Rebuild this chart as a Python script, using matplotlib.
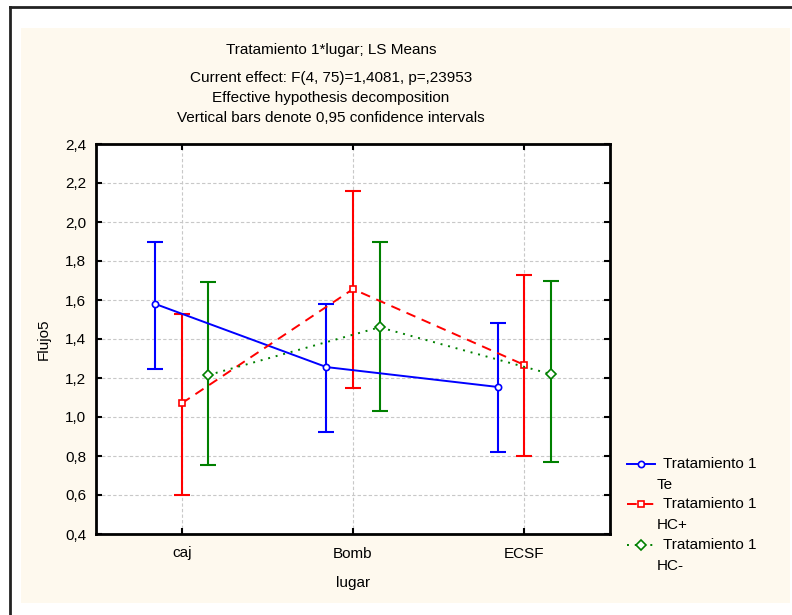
import matplotlib
matplotlib.use("Agg")
import matplotlib.pyplot as plt
import numpy as np
from matplotlib.lines import Line2D

plt.rcParams["font.family"] = ["Liberation Sans", "DejaVu Sans"]
plt.rcParams["font.size"] = 11

places = ["caj", "Bomb", "ECSF"]
tick_values = [0.4, 0.6, 0.8, 1.0, 1.2, 1.4, 1.6, 1.8, 2.0, 2.2, 2.4]
tick_labels = ["0,4", "0,6", "0,8", "1,0", "1,2", "1,4", "1,6", "1,8", "2,0", "2,2", "2,4"]

te_mean = [1.58, 1.256, 1.154]
te_low = [1.245, 0.923, 0.82]
te_high = [1.90, 1.58, 1.48]

hcp_mean = [1.07, 1.656, 1.267]
hcp_low = [0.60, 1.149, 0.80]
hcp_high = [1.53, 2.159, 1.73]

hcm_mean = [1.215, 1.46, 1.22]
hcm_low = [0.754, 1.03, 0.77]
hcm_high = [1.69, 1.90, 1.70]

CREAM = "#fef9ee"
FS = 11

fig = plt.figure(figsize=(7.92, 6.15), dpi=100)
fig.patch.set_facecolor("white")
fig.add_artist(plt.Rectangle((21 / 792, 1 - 603 / 615), (790 - 21) / 792, (603 - 28) / 615,
                             transform=fig.transFigure, facecolor=CREAM, edgecolor="none", zorder=-10))
fig.add_artist(Line2D([10 / 792, 1.0], [1 - 7 / 615, 1 - 7 / 615], transform=fig.transFigure,
                      color="#222222", lw=2.0))
fig.add_artist(Line2D([10 / 792, 10 / 792], [1 - 7 / 615, 0.0], transform=fig.transFigure,
                      color="#222222", lw=2.0))

ax = fig.add_axes([96 / 792, 1 - 534 / 615, (610 - 96) / 792, (534 - 144) / 615])
ax.set_facecolor("white")

x = np.arange(len(places))
series = [
    (te_mean, te_low, te_high, -0.155, "blue", "-", "o", "Tratamiento 1", "Te"),
    (hcp_mean, hcp_low, hcp_high, 0.0, "red", (0, (5, 3.5)), "s", "Tratamiento 1", "HC+"),
    (hcm_mean, hcm_low, hcm_high, 0.155, "green", (0, (1, 3)), "D", "Tratamiento 1", "HC-"),
]

for mean, low, high, shift, color, ls, marker, _, _ in series:
    mean = np.array(mean)
    err = [mean - np.array(low), np.array(high) - mean]
    xs = x + shift
    ax.errorbar(xs, mean, yerr=err, fmt="none", ecolor=color, elinewidth=1.5,
                capsize=6, capthick=1.5, zorder=3)
    ax.plot(xs, mean, color=color, linestyle=ls, lw=1.4, marker=marker,
            markersize=4.5 if marker != "D" else 5, markerfacecolor="white",
            markeredgecolor=color, markeredgewidth=1.2, zorder=4)

ax.set_xlim(-0.5, 2.5)
ax.set_ylim(0.4, 2.4)
ax.set_xticks(x)
ax.set_xticklabels(places)
ax.set_yticks(tick_values)
ax.set_yticklabels(tick_labels)
ax.tick_params(direction="in", top=True, right=True, length=4, width=1.5, labelsize=FS)
ax.tick_params(axis="x", pad=9)
ax.tick_params(axis="y", pad=7)
ax.grid(True, color="#c8c8c8", linestyle=(0, (3, 2)), lw=0.8)
ax.set_axisbelow(True)
for sp in ax.spines.values():
    sp.set_linewidth(2.0)
ax.set_xlabel("lugar", fontsize=FS)
ax.set_ylabel("Flujo5", fontsize=FS)
ax.xaxis.set_label_coords(0.5, -(583 - 534) / 390, transform=ax.transAxes)
ax.xaxis.label.set_va("center")
ax.yaxis.set_label_coords(-(96 - 44) / 514, 0.5, transform=ax.transAxes)
ax.yaxis.label.set_va("center")

# header lines sit a bit left of the axes centre in the original
cx = 331 / 792
fig.text(cx, 1 - 50 / 615, "Tratamiento 1*lugar; LS Means", ha="center", va="center", fontsize=FS)
fig.text(cx, 1 - 78 / 615, "Current effect: F(4, 75)=1,4081, p=,23953", ha="center", va="center", fontsize=FS)
fig.text(cx, 1 - 98 / 615, "Effective hypothesis decomposition", ha="center", va="center", fontsize=FS)
fig.text(cx, 1 - 118 / 615, "Vertical bars denote 0,95 confidence intervals", ha="center", va="center", fontsize=FS)

# legend drawn by hand so the marker sits on the first text line
legend_y = [464, 504, 545]
for (mean, low, high, shift, color, ls, marker, line1, line2), ly in zip(series, legend_y):
    yf = 1 - ly / 615
    fig.add_artist(Line2D([627 / 792, 655 / 792], [yf, yf], transform=fig.transFigure, color=color,
                          linestyle=ls, lw=1.4))
    fig.add_artist(Line2D([641 / 792], [yf], transform=fig.transFigure, color=color, marker=marker,
                          markersize=4.5 if marker != "D" else 5, markerfacecolor="white",
                          markeredgecolor=color, markeredgewidth=1.2, linestyle="none"))
    fig.text(663 / 792, yf, line1, ha="left", va="center", fontsize=FS)
    fig.text(657 / 792, 1 - (ly + 21) / 615, line2, ha="left", va="center", fontsize=FS)

fig.savefig("out.png", dpi=100, facecolor=fig.get_facecolor())
